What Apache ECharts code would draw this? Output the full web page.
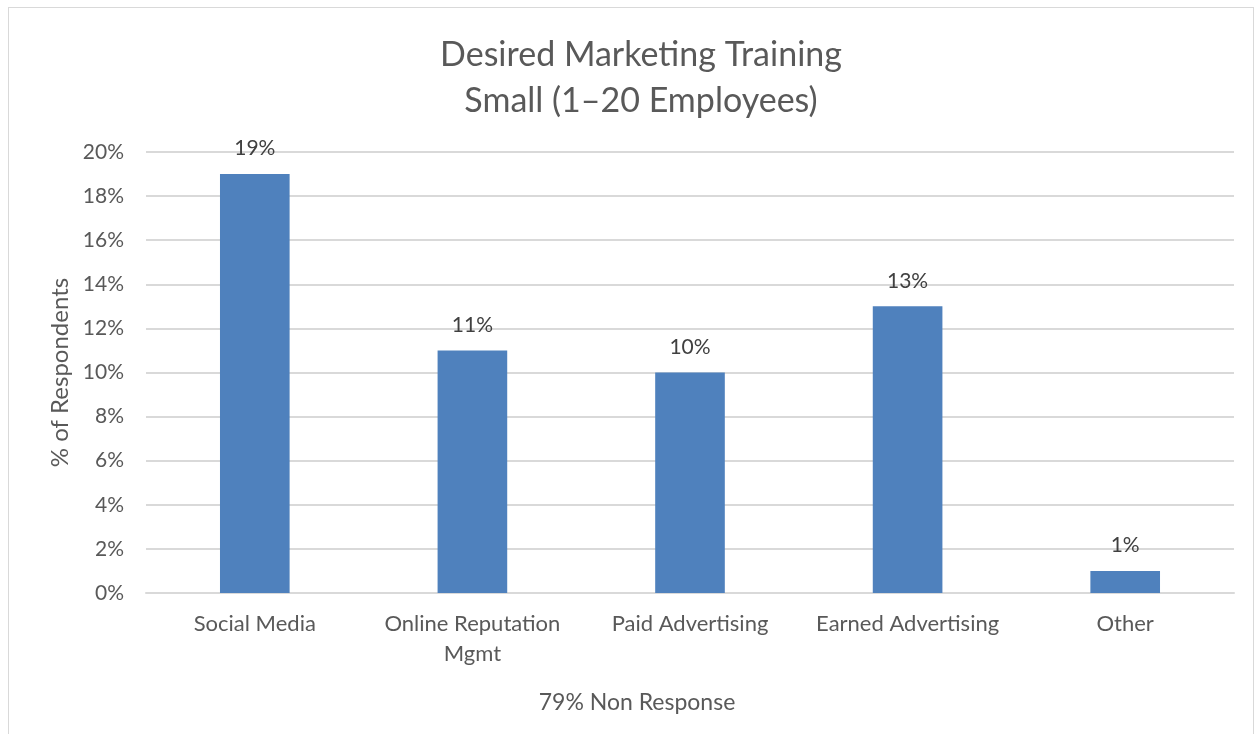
<!DOCTYPE html>
<html>
<head>
<meta charset="utf-8">
<script src="https://cdn.jsdelivr.net/npm/echarts@6/dist/echarts.min.js"></script>
<style>
  html, body { margin: 0; padding: 0; background: #fff; }
  #frame { position: absolute; left: 8px; top: 7px; width: 1244px; height: 740px; border: 1px solid #d9d9d9; }
  #main { position: absolute; left: 0; top: 0; width: 1255px; height: 734px; }
</style>
</head>
<body>
<div id="frame"></div>
<div id="main"></div>
<script>
// values
var categories = ['Social Media', 'Online Reputation\nMgmt', 'Paid Advertising', 'Earned Advertising', 'Other'];
var respondents = [19, 11, 10, 13, 1];
var yTicks = [0, 2, 4, 6, 8, 10, 12, 14, 16, 18, 20];

var chartDom = document.getElementById('main');
var myChart = echarts.init(chartDom);
var font = 'Lato, "Open Sans", sans-serif';

var option = {
    animation: false,
    title: [
        {
            text: 'Desired Marketing Training\nSmall (1\u201320 Employees)',
            left: 636,
            textAlign: 'center',
            top: 27,
            textStyle: {
                fontFamily: font,
                fontSize: 34,
                fontWeight: 'normal',
                color: '#595959',
                lineHeight: 46
            }
        },
        {
            text: '79% Non Response',
            left: 632,
            textAlign: 'center',
            top: 686,
            textStyle: {
                fontFamily: font,
                fontSize: 23,
                fontWeight: 'normal',
                color: '#595959'
            }
        }
    ],
    grid: {
        left: 146,
        right: 21,
        top: 152,
        bottom: 141,
        containLabel: false
    },
    xAxis: {
        type: 'category',
        data: categories,
        axisLine: { show: true, lineStyle: { color: '#d9d9d9', width: 2 } },
        axisTick: { show: false },
        axisLabel: {
            interval: 0,
            hideOverlap: false,
            fontFamily: font,
            fontSize: 22,
            color: '#595959',
            margin: 16,
            lineHeight: 30
        }
    },
    yAxis: {
        type: 'value',
        min: 0,
        max: 20,
        interval: 2,
        name: '% of Respondents',
        nameLocation: 'middle',
        nameRotate: 90,
        nameGap: 74,
        nameTextStyle: {
            fontFamily: font,
            fontSize: 24,
            color: '#595959'
        },
        axisLine: { show: false },
        axisTick: { show: false },
        axisLabel: {
            fontFamily: font,
            fontSize: 21,
            color: '#595959',
            margin: 22,
            formatter: function (v) { return yTicks.indexOf(v) >= 0 ? v + '%' : ''; }
        },
        splitLine: { lineStyle: { color: '#d9d9d9', width: 2 } }
    },
    series: [
        {
            type: 'bar',
            data: respondents,
            barWidth: '32%',
            itemStyle: { color: '#4f81bd' },
            label: {
                show: true,
                position: 'top',
                distance: 15,
                fontFamily: font,
                fontSize: 21,
                color: '#404040',
                formatter: '{c}%'
            }
        }
    ]
};

option && myChart.setOption(option);
</script>
</body>
</html>
